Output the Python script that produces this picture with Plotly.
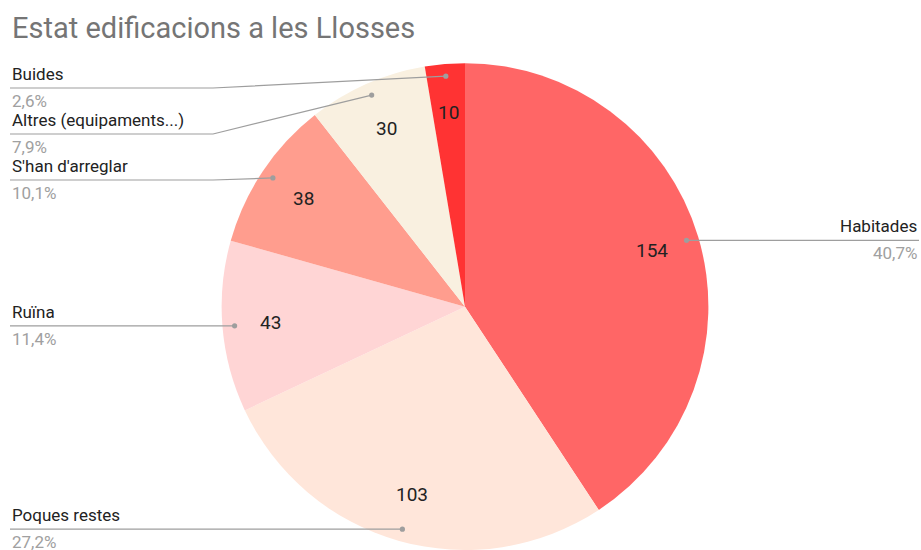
import math
import plotly.graph_objects as go

# ---- data ----
labels = ["Habitades", "Poques restes", "Ruïna", "S'han d'arreglar",
          "Altres (equipaments...)", "Buides"]
values = [154, 103, 43, 38, 30, 10]
colors = ["#FF6666", "#FFE6DA", "#FFD5D5", "#FF9D8E", "#F9F0E0", "#FF3333"]
title = "Estat edificacions a les Llosses"

# ---- layout constants ----
W, H = 921, 550
dom_x = [0.0098, 1.0]
dom_y = [0.0, 0.885]
FONT = "Roboto, Arial, sans-serif"

total = sum(values)
pcts = [(f"{v / total * 100:.1f}").replace(".", ",") + "%" for v in values]

fig = go.Figure(go.Pie(
    labels=labels, values=values, sort=False, direction="clockwise",
    rotation=0, marker=dict(colors=colors, line=dict(width=0)),
    textinfo="none", hoverinfo="label+value+percent",
    domain=dict(x=dom_x, y=dom_y), showlegend=False,
))

# pie geometry in pixels (derived from domain)
dw = (dom_x[1] - dom_x[0]) * W
dh = (dom_y[1] - dom_y[0]) * H
R = min(dw, dh) / 2
cx = (dom_x[0] + dom_x[1]) / 2 * W
cy = H - (dom_y[0] + dom_y[1]) / 2 * H


def px(x):
    return x / W


def py(y):
    return 1 - y / H


annotations = []
shapes = []
annotations.append(dict(text=title, x=px(10), y=py(28), xref="paper", yref="paper",
                        xanchor="left", yanchor="middle", showarrow=False,
                        font=dict(family=FONT, size=29, color="#757575")))

cum = 0
items = []
for lab, v, p in zip(labels, values, pcts):
    th = 2 * math.pi * (cum + v / 2) / total
    cum += v
    s, c = math.sin(th), math.cos(th)
    # value inside
    annotations.append(dict(text=str(v), x=px(cx + 0.8 * R * s), y=py(cy - 0.8 * R * c),
                            xref="paper", yref="paper", showarrow=False,
                            xanchor="center", yanchor="middle",
                            font=dict(family=FONT, size=19, color="#222222")))
    dx, dy = cx + 0.95 * R * s, cy - 0.95 * R * c
    items.append(dict(lab=lab, p=p, dx=dx, dy=dy, right=s > 0))

# resolve label line positions per side
for side in (True, False):
    grp = sorted([it for it in items if it["right"] == side], key=lambda t: t["dy"])
    prev = None
    for it in grp:
        y = max(it["dy"], 88)
        if prev is not None:
            y = max(y, prev + 46)
        y = min(y, 530)
        it["ly"] = y
        prev = y

for it in items:
    ly = it["ly"]
    end_x = W - 2 if it["right"] else 10
    if abs(ly - it["dy"]) > 0.5:
        bend_x = 213
        path = f"M {px(it['dx'])},{py(it['dy'])} L {px(bend_x)},{py(ly)} L {px(end_x)},{py(ly)}"
    else:
        path = f"M {px(it['dx'])},{py(ly)} L {px(end_x)},{py(ly)}"
    shapes.append(dict(type="path", path=path, xref="paper", yref="paper",
                       line=dict(color="#9E9E9E", width=1.2)))
    r = 2.6
    shapes.append(dict(type="circle", xref="paper", yref="paper",
                       x0=px(it["dx"] - r), x1=px(it["dx"] + r),
                       y0=py(it["dy"] + r), y1=py(it["dy"] - r),
                       fillcolor="#9E9E9E", line=dict(width=0)))
    anchor = "right" if it["right"] else "left"
    annotations.append(dict(text=it["lab"], x=px(end_x), y=py(ly - 2),
                            xref="paper", yref="paper", showarrow=False,
                            xanchor=anchor, yanchor="bottom",
                            font=dict(family=FONT, size=17, color="#222222")))
    annotations.append(dict(text=it["p"], x=px(end_x), y=py(ly + 1),
                            xref="paper", yref="paper", showarrow=False,
                            xanchor=anchor, yanchor="top",
                            font=dict(family=FONT, size=17, color="#A0A0A0")))

fig.update_layout(width=W, height=H, margin=dict(l=0, r=0, t=0, b=0),
                  paper_bgcolor="white", plot_bgcolor="white",
                  annotations=annotations, shapes=shapes, showlegend=False)

fig.write_html("out.html", config={"displayModeBar": False},
               post_script="document.body.style.margin='0';document.body.style.overflow='hidden';")
